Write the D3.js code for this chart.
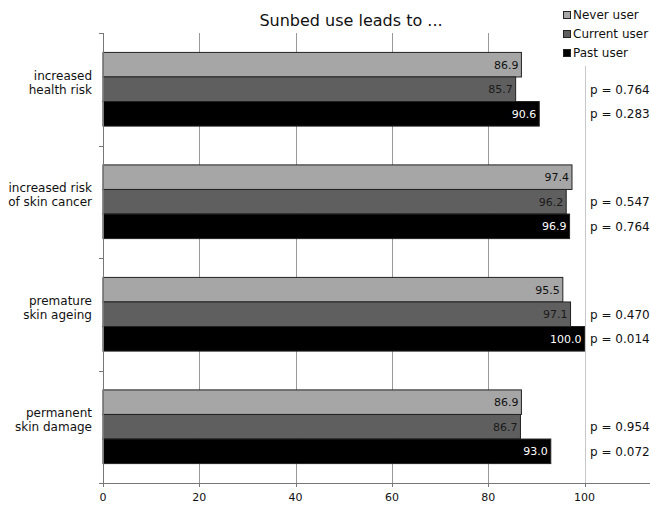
<!DOCTYPE html>
<html lang="en">
<head>
<meta charset="utf-8">
<title>Sunbed use leads to ...</title>
<script src="https://d3js.org/d3.v7.min.js"></script>
<style>
  body { margin: 0; background: #fff; }
  text { font-family: "DejaVu Sans", Verdana, sans-serif; }
</style>
</head>
<body>
<div id="chart"></div>
<script>
// data
var categories = [
  ["increased", "health risk"],
  ["increased risk", "of skin cancer"],
  ["premature", "skin ageing"],
  ["permanent", "skin damage"]
];
var seriesNames = ["Never user", "Current user", "Past user"];
var neverUser = [86.9, 97.4, 95.5, 86.9];
var currentUser = [85.7, 96.2, 97.1, 86.7];
var pastUser = [90.6, 96.9, 100.0, 93.0];
var pCurrent = ["0.764", "0.547", "0.470", "0.954"];
var pPast = ["0.283", "0.764", "0.014", "0.072"];
var xTicks = [0, 20, 40, 60, 80, 100];

var series = [neverUser, currentUser, pastUser];
var fills = ["#a6a6a6", "#5f5f5f", "#000000"];
var labelColors = ["#111", "#1a1a1a", "#fff"];

var W = 650, H = 505;
var plotLeft = 103, plotTop = 33, plotBottom = 483;

var svg = d3.select("#chart").append("svg")
  .attr("width", W).attr("height", H);

var x = d3.scaleLinear().domain([0, 100]).range([plotLeft, 584.5]);
var y = d3.scaleBand().domain(d3.range(categories.length))
  .range([plotTop, plotBottom]).paddingInner(0.345).paddingOuter(0.1725);
var ySub = d3.scaleBand().domain(d3.range(series.length))
  .range([0, y.bandwidth()]);

// gridlines
svg.append("g").selectAll("line")
  .data(xTicks.slice(1))
  .join("line")
  .attr("x1", function(d) { return Math.round(x(d)) + 0.5; })
  .attr("x2", function(d) { return Math.round(x(d)) + 0.5; })
  .attr("y1", function(d) { return d == 100 ? 66 : plotTop; })
  .attr("y2", plotBottom)
  .attr("stroke", function(d) { return d == 100 ? "#c8c8c8" : "#999"; })
  .attr("stroke-width", 1);

// bars
for (var s = 0; s < series.length; s++) {
  var g = svg.append("g");
  g.selectAll("rect")
    .data(series[s])
    .join("rect")
    .attr("x", x(0))
    .attr("y", function(d, i) { return y(i) + ySub(s); })
    .attr("width", function(d) { return x(d) - x(0); })
    .attr("height", ySub.bandwidth())
    .attr("fill", fills[s])
    .attr("stroke", "#222")
    .attr("stroke-width", 1);

  g.selectAll("text")
    .data(series[s])
    .join("text")
    .attr("x", function(d) { return x(d) - 3; })
    .attr("y", function(d, i) { return y(i) + ySub(s) + ySub.bandwidth() / 2; })
    .attr("dy", "0.36em")
    .attr("text-anchor", "end")
    .attr("font-size", 11)
    .attr("fill", labelColors[s])
    .text(function(d) { return d.toFixed(1); });
}

// p-values
var pRows = [[pCurrent, 1], [pPast, 2]];
pRows.forEach(function(row) {
  svg.append("g").selectAll("text")
    .data(row[0])
    .join("text")
    .attr("x", 590)
    .attr("y", function(d, i) { return y(i) + ySub(row[1]) + ySub.bandwidth() / 2; })
    .attr("dy", "0.36em")
    .attr("font-size", 12)
    .attr("fill", "#111")
    .text(function(d) { return "p = " + d; });
});

// axes
var yAxisTicks = d3.range(categories.length + 1).map(function(i) {
  return plotTop + i * (plotBottom - plotTop) / categories.length;
});
svg.append("line")
  .attr("x1", plotLeft + 0.5).attr("x2", plotLeft + 0.5)
  .attr("y1", plotTop).attr("y2", plotBottom)
  .attr("stroke", "#777");
svg.append("g").selectAll("line")
  .data(yAxisTicks)
  .join("line")
  .attr("x1", plotLeft - 4).attr("x2", plotLeft)
  .attr("y1", function(d) { return Math.round(d) + 0.5; })
  .attr("y2", function(d) { return Math.round(d) + 0.5; })
  .attr("stroke", "#777");

svg.append("line")
  .attr("x1", plotLeft - 4).attr("x2", W)
  .attr("y1", plotBottom + 0.5).attr("y2", plotBottom + 0.5)
  .attr("stroke", "#777");

var xAxis = svg.append("g");
xAxis.selectAll("line")
  .data(xTicks)
  .join("line")
  .attr("x1", function(d) { return Math.round(x(d)) + 0.5; })
  .attr("x2", function(d) { return Math.round(x(d)) + 0.5; })
  .attr("y1", plotBottom).attr("y2", plotBottom + 4)
  .attr("stroke", "#777");
xAxis.selectAll("text")
  .data(xTicks)
  .join("text")
  .attr("x", function(d) { return x(d); })
  .attr("y", plotBottom + 18)
  .attr("text-anchor", "middle")
  .attr("font-size", 11)
  .attr("fill", "#111")
  .text(function(d) { return d; });

// category labels
categories.forEach(function(lines, i) {
  var cy = y(i) + y.bandwidth() / 2 - 7;
  var t = svg.append("text")
    .attr("text-anchor", "end")
    .attr("font-size", 12)
    .attr("fill", "#111");
  lines.forEach(function(l, j) {
    t.append("tspan")
      .attr("x", 92)
      .attr("y", cy + (j - (lines.length - 1) / 2) * 14)
      .attr("dy", "0.36em")
      .text(l);
  });
});

// title
svg.append("text")
  .attr("x", 351).attr("y", 26)
  .attr("text-anchor", "middle")
  .attr("font-size", 16)
  .attr("fill", "#111")
  .text("Sunbed use leads to ...");

// legend
var legend = svg.append("g").selectAll("g")
  .data(seriesNames)
  .join("g")
  .attr("transform", function(d, i) { return "translate(563," + (15 + i * 19) + ")"; });
legend.append("rect")
  .attr("x", 0.5).attr("y", -3.5)
  .attr("width", 7).attr("height", 7)
  .attr("fill", function(d, i) { return fills[i]; })
  .attr("stroke", "#222");
legend.append("text")
  .attr("x", 10).attr("dy", "0.36em")
  .attr("font-size", 12)
  .attr("fill", "#111")
  .text(function(d) { return d; });
</script>
</body>
</html>
